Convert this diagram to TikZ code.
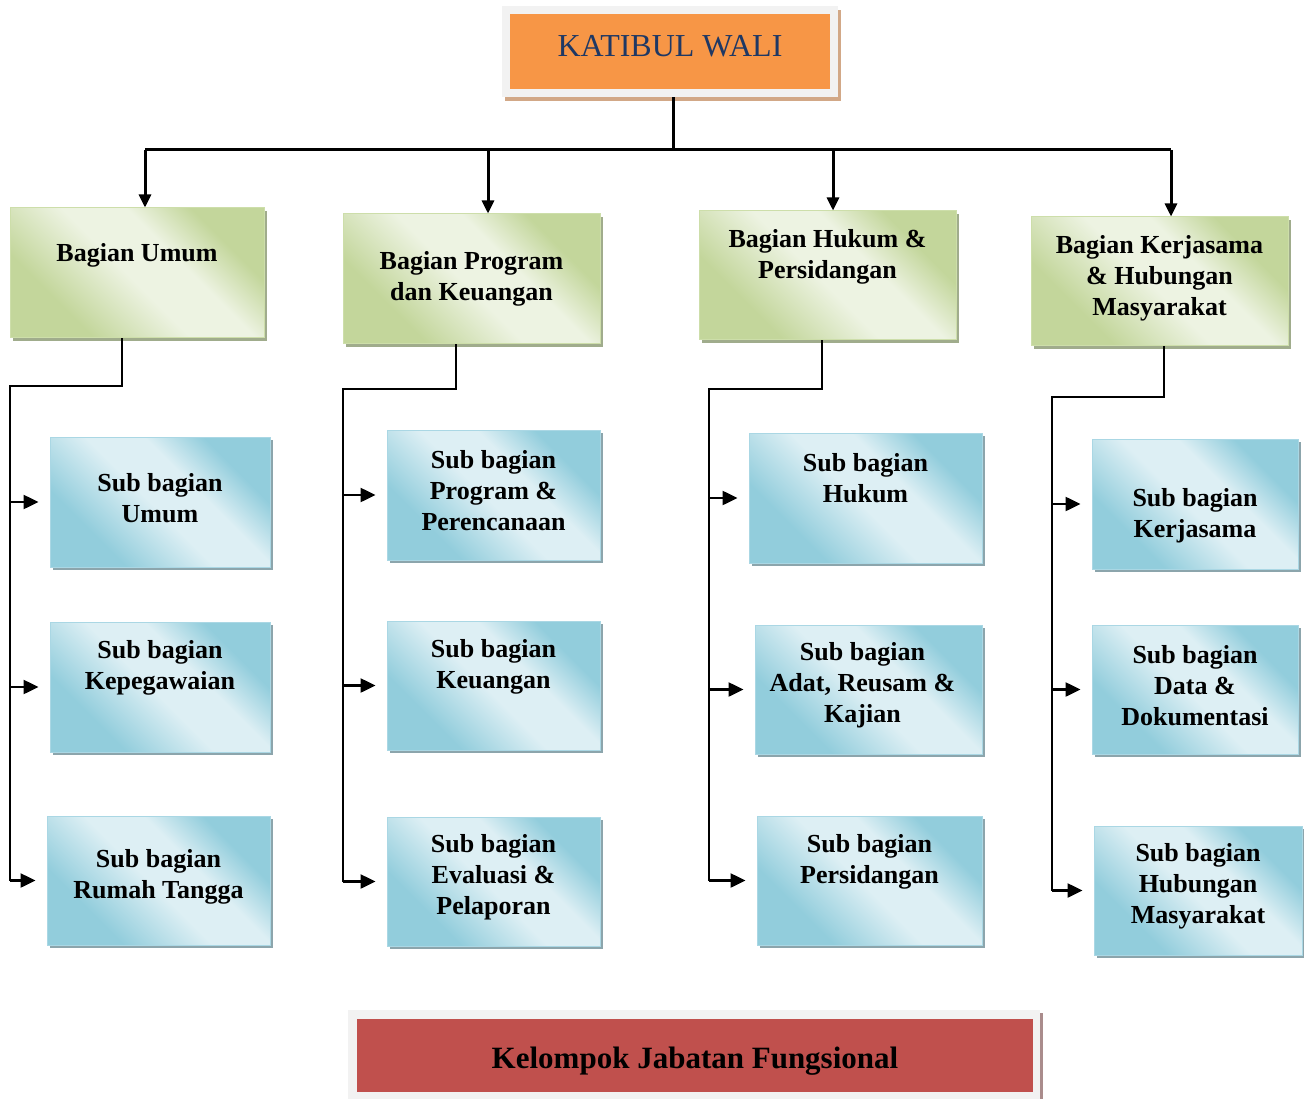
\documentclass[tikz,border=0pt]{standalone}
\usepackage{fontspec}
\setmainfont{Liberation Serif}
\usetikzlibrary{calc,arrows.meta,shadows}
\definecolor{gdark}{RGB}{195,214,155}
\definecolor{glight}{RGB}{237,243,226}
\definecolor{gedge}{RGB}{205,222,170}
\definecolor{gshade}{RGB}{160,172,140}
\definecolor{bdark}{RGB}{146,205,220}
\definecolor{blight}{RGB}{221,239,244}
\definecolor{bedge}{RGB}{170,215,228}
\definecolor{bshade}{RGB}{140,165,172}
\definecolor{orangefill}{RGB}{247,150,70}
\definecolor{redfill}{RGB}{192,80,77}
\definecolor{frame}{RGB}{242,242,242}
\definecolor{navy}{RGB}{31,56,100}
\pgfdeclarehorizontalshading{greensheen}{100bp}{color(0bp)=(gdark); color(30bp)=(gdark); color(48bp)=(glight); color(60bp)=(glight); color(72bp)=(gdark); color(100bp)=(gdark)}
\pgfdeclarehorizontalshading{bluesheen}{100bp}{color(0bp)=(bdark); color(30bp)=(bdark); color(48bp)=(blight); color(60bp)=(blight); color(72bp)=(bdark); color(100bp)=(bdark)}
\tikzset{>={Triangle[length=13pt,width=12pt]}}

\begin{document}
\begin{tikzpicture}[x=1pt,y=-1pt,
  bagian/.style={draw=gedge,line width=1pt,inner sep=0pt,
    shading=greensheen,shading angle=45,
    drop shadow={shadow xshift=3pt,shadow yshift=-3pt,fill=gshade,opacity=1}},
  subbox/.style={draw=bedge,line width=1pt,inner sep=0pt,
    shading=bluesheen,shading angle=45,
    drop shadow={shadow xshift=3pt,shadow yshift=-3pt,fill=bshade,opacity=1}},
  txt/.style={font=\fontsize{26}{31}\selectfont\bfseries,align=center,inner sep=0pt},
  bus/.style={line width=3pt},
  link/.style={line width=2.5pt},
  arr/.style={link,-{Triangle[length=15pt,width=14pt]},shorten >=11pt}]
\useasboundingbox (0,0) rectangle (1304,1099);

% Katibul Wali
\node[fill=frame,inner sep=0pt,minimum width=336pt,minimum height=91pt,
  drop shadow={shadow xshift=3pt,shadow yshift=-4pt,fill={rgb,255:red,210;green,168;blue,135},opacity=1}]
  (kwf) at (670,51.5) {};
\node[fill=orangefill,inner sep=0pt,minimum width=320pt,minimum height=75pt] (kw) at (670,51.5) {};
\node[font=\fontsize{32}{38}\selectfont,text=navy,inner sep=0pt] (kwT) at (670,46) {KATIBUL WALI};

% Bagian
\node[bagian,minimum width=254pt,minimum height=130pt] (bU) at (137,273) {};
\node[bagian,minimum width=257pt,minimum height=130pt] (bP) at (471.5,279) {};
\node[bagian,minimum width=257pt,minimum height=129pt] (bH) at (827.5,275.5) {};
\node[bagian,minimum width=257pt,minimum height=129pt] (bK) at (1159.5,281.5) {};
\node[txt] (tU) at (137,255) {Bagian Umum};
\node[txt] (tP) at (471.5,278.5) {Bagian Program\\dan Keuangan};
\node[txt] (tH) at (827.5,256.5) {Bagian Hukum \&\\Persidangan};
\node[txt] (tK) at (1159.5,278) {Bagian Kerjasama\\\& Hubungan\\Masyarakat};

% Sub bagian
\node[subbox,minimum width=220pt,minimum height=130pt] (subUmum) at (160,502) {};
\node[subbox,minimum width=220pt,minimum height=130pt] (subPeg) at (160,687) {};
\node[subbox,minimum width=223pt,minimum height=129pt] (subRT) at (158.5,880.5) {};
\node[subbox,minimum width=213pt,minimum height=130pt] (subProg) at (493.5,495) {};
\node[subbox,minimum width=213pt,minimum height=129pt] (subKeu) at (493.5,685.5) {};
\node[subbox,minimum width=213pt,minimum height=129pt] (subEval) at (493.5,881.5) {};
\node[subbox,minimum width=233pt,minimum height=130pt] (subHukum) at (865.5,498) {};
\node[subbox,minimum width=227pt,minimum height=129pt] (subAdat) at (868.5,689.5) {};
\node[subbox,minimum width=225pt,minimum height=129pt] (subSidang) at (869.5,880.5) {};
\node[subbox,minimum width=206pt,minimum height=130pt] (subKerja) at (1195,504) {};
\node[subbox,minimum width=206pt,minimum height=129pt] (subData) at (1195,689.5) {};
\node[subbox,minimum width=208pt,minimum height=129pt] (subHumas) at (1198,890.5) {};

\node[txt] (tSubUmum) at (160,498) {Sub bagian\\Umum};
\node[txt] (tSubPeg) at (160,668) {Sub bagian\\Kepegawaian};
\node[txt] (tSubRT) at (158.5,876.5) {Sub bagian\\Rumah Tangga};
\node[txt] (tSubProg) at (493.5,490.5) {Sub bagian\\Program \&\\Perencanaan};
\node[txt] (tSubKeu) at (493.5,666.5) {Sub bagian\\Keuangan};
\node[txt] (tSubEval) at (493.5,877) {Sub bagian\\Evaluasi \&\\Pelaporan};
\node[txt] (tSubHukum) at (865.5,478.5) {Sub bagian\\Hukum};
\node[txt] (tSubAdat) at (862.5,685) {Sub bagian\\Adat, Reusam \&\\Kajian};
\node[txt] (tSubSidang) at (869.5,861.5) {Sub bagian\\Persidangan};
\node[txt] (tSubKerja) at (1195,515.5) {Sub bagian\\Kerjasama};
\node[txt] (tSubData) at (1195,686) {Sub bagian\\Data \&\\Dokumentasi};
\node[txt] (tSubHumas) at (1198,886) {Sub bagian\\Hubungan\\Masyarakat};

% Kelompok Jabatan Fungsional
\node[fill=frame,inner sep=0pt,minimum width=692pt,minimum height=96pt,
  drop shadow={shadow xshift=3pt,shadow yshift=-3pt,fill={rgb,255:red,170;green,140;blue,140},opacity=1}]
  (kjf) at (694,1058) {};
\node[fill=redfill,inner sep=0pt,minimum width=676pt,minimum height=73pt] (kj) at (695,1055.5) {};
\node[txt,font=\fontsize{31}{36}\selectfont\bfseries] (kjT) at (695,1061) {Kelompok Jabatan Fungsional};

% Top bus
\coordinate (hub) at (673,150);
\coordinate (aU) at (145,150);
\coordinate (aP) at (488,150);
\coordinate (aH) at (833,150);
\coordinate (aK) at (1171,150);
\draw[bus] (hub |- kwf.south) -- (hub);
\draw[bus] (aU) -- (aK);
\foreach \a/\b in {aU/bU,aP/bP,aH/bH,aK/bK}
  \draw[bus,->] (\a) -- (\a |- \b.north);

% Elbows to sub bagian
\coordinate (eU) at (10,386);
\coordinate (eP) at (343,389);
\coordinate (eH) at (709,389);
\coordinate (eK) at (1052,397);
\draw[link] ($(bU.south)+(-15,0)$) |- (eU) -- (eU |- subRT.west);
\draw[link] ($(bP.south)+(-15.5,0)$) |- (eP) -- (eP |- subEval.west);
\draw[link] ($(bH.south)+(-5.5,0)$) |- (eH) -- (eH |- subSidang.west);
\draw[link] ($(bK.south)+(4.5,0)$) |- (eK) -- (eK |- subHumas.west);
\foreach \s in {subUmum,subPeg,subRT}
  \draw[arr] (eU |- \s.west) -- (\s.west);
\foreach \s in {subProg,subKeu,subEval}
  \draw[arr] (eP |- \s.west) -- (\s.west);
\foreach \s in {subHukum,subAdat,subSidang}
  \draw[arr] (eH |- \s.west) -- (\s.west);
\foreach \s in {subKerja,subData,subHumas}
  \draw[arr] (eK |- \s.west) -- (\s.west);
\end{tikzpicture}
\end{document}
